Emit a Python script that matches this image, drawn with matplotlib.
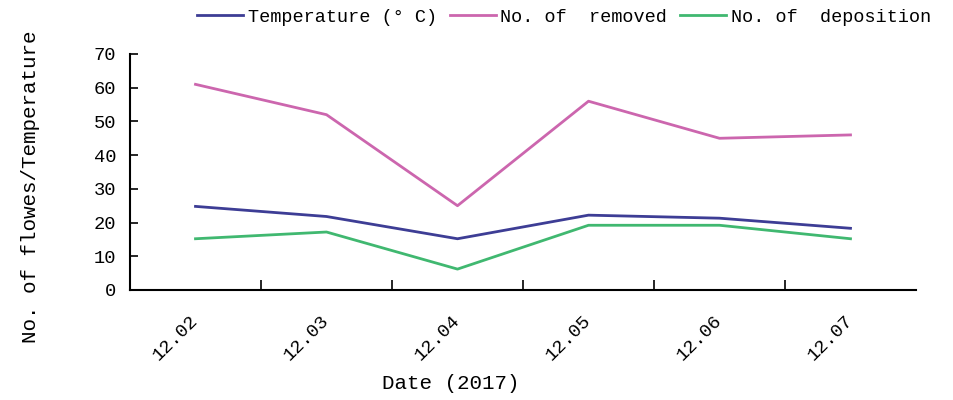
import matplotlib
matplotlib.use("Agg")
import matplotlib.pyplot as plt
from matplotlib.ticker import FixedLocator, NullFormatter

dates = ["12.02", "12.03", "12.04", "12.05", "12.06", "12.07"]
temperature = [24.8, 21.8, 15.2, 22.2, 21.3, 18.3]
removed = [61, 52, 25, 56, 45, 46]
deposition = [15.2, 17.2, 6.2, 19.2, 19.2, 15.2]
yticks = [0, 10, 20, 30, 40, 50, 60, 70]

plt.rcParams['font.family'] = ['Liberation Mono', 'DejaVu Sans Mono']

fig = plt.figure(figsize=(9.54, 4.0), dpi=100)
ax = fig.add_axes([130/954, 1-290/400, 786/954, 236/400])

x = list(range(len(dates)))
l1, = ax.plot(x, temperature, color="#3d3d95", lw=2, label="Temperature (° C)")
l2, = ax.plot(x, removed, color="#cc66ae", lw=2, label="No. of  removed")
l3, = ax.plot(x, deposition, color="#40b870", lw=2, label="No. of  deposition")

ax.set_xlim(-0.5, len(dates) - 0.5)
ax.set_ylim(0, 70)
ax.set_yticks(yticks)
ax.set_xticks(x)
ax.set_xticklabels(dates, rotation=45, ha='right', va='center', rotation_mode='anchor', fontsize=13.5)
ax.tick_params(axis='x', which='major', length=0, pad=20)
ax.xaxis.set_minor_locator(FixedLocator([i + 0.5 for i in range(len(dates) - 1)]))
ax.xaxis.set_minor_formatter(NullFormatter())
ax.tick_params(axis='x', which='minor', direction='in', length=7, width=1.2)
ax.tick_params(axis='y', direction='in', length=6, width=1.2, labelsize=13.5, pad=10)

for s in ['top', 'right']:
    ax.spines[s].set_visible(False)
for s in ['left', 'bottom']:
    ax.spines[s].set_linewidth(1.5)

ax.set_xlabel("Date (2017)", fontsize=15)
ax.xaxis.set_label_coords((451-130)/786, -(374-290)/236)
ax.set_ylabel("No. of flowes/Temperature", fontsize=15)
ax.yaxis.set_label_coords(-(130-40)/786, (290-187)/236)

leg = fig.legend(handles=[l1, l2, l3], loc='center', bbox_to_anchor=(564/954, 1-17/400),
                 ncol=3, frameon=False, fontsize=13.3, handlelength=2.5,
                 handletextpad=0.25, columnspacing=0.7)

fig.savefig("out.png", dpi=100)
